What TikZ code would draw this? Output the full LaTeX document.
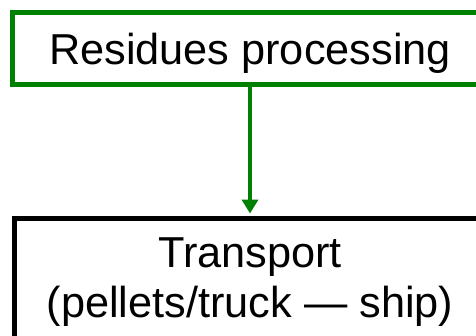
\documentclass[tikz,border=0pt]{standalone}
\usepackage{fontspec}
\setmainfont{Liberation Sans}
\usetikzlibrary{arrows.meta}
\definecolor{boxgreen}{RGB}{0,128,0}
\begin{document}
\begin{tikzpicture}[x=1bp,y=1bp,
  bigtext/.style={font=\fontsize{43.3bp}{49.8bp}\selectfont},
  greenbox/.style={draw=boxgreen, line width=5bp, fill=white, inner sep=0pt},
  blackbox/.style={draw=black, line width=5bp, fill=white, inner sep=0pt},
  greenarrow/.style={draw=boxgreen, line width=4.5bp, -{Triangle[width=16bp,length=14bp]}, shorten >=2.5bp}
]
\useasboundingbox (0,0) rectangle (476,335);
\fill[white] (0,0) rectangle (476,335);
\clip (0,0) rectangle (476,335);
\node[greenbox, bigtext, minimum width=474.4bp, minimum height=72.1bp,
      text height=31.1bp, text depth=0pt] (resid) at (250,286.25) {Residues processing};
\node[blackbox, minimum width=470.6bp, minimum height=149bp, anchor=north] (trans) at (250,119) {};
\node[bigtext, align=center, inner sep=0pt] (transtext) at (250,53.3) {Transport\\(pellets/truck — ship)};
\draw[greenarrow] (resid) -- (trans);
\end{tikzpicture}
\end{document}
